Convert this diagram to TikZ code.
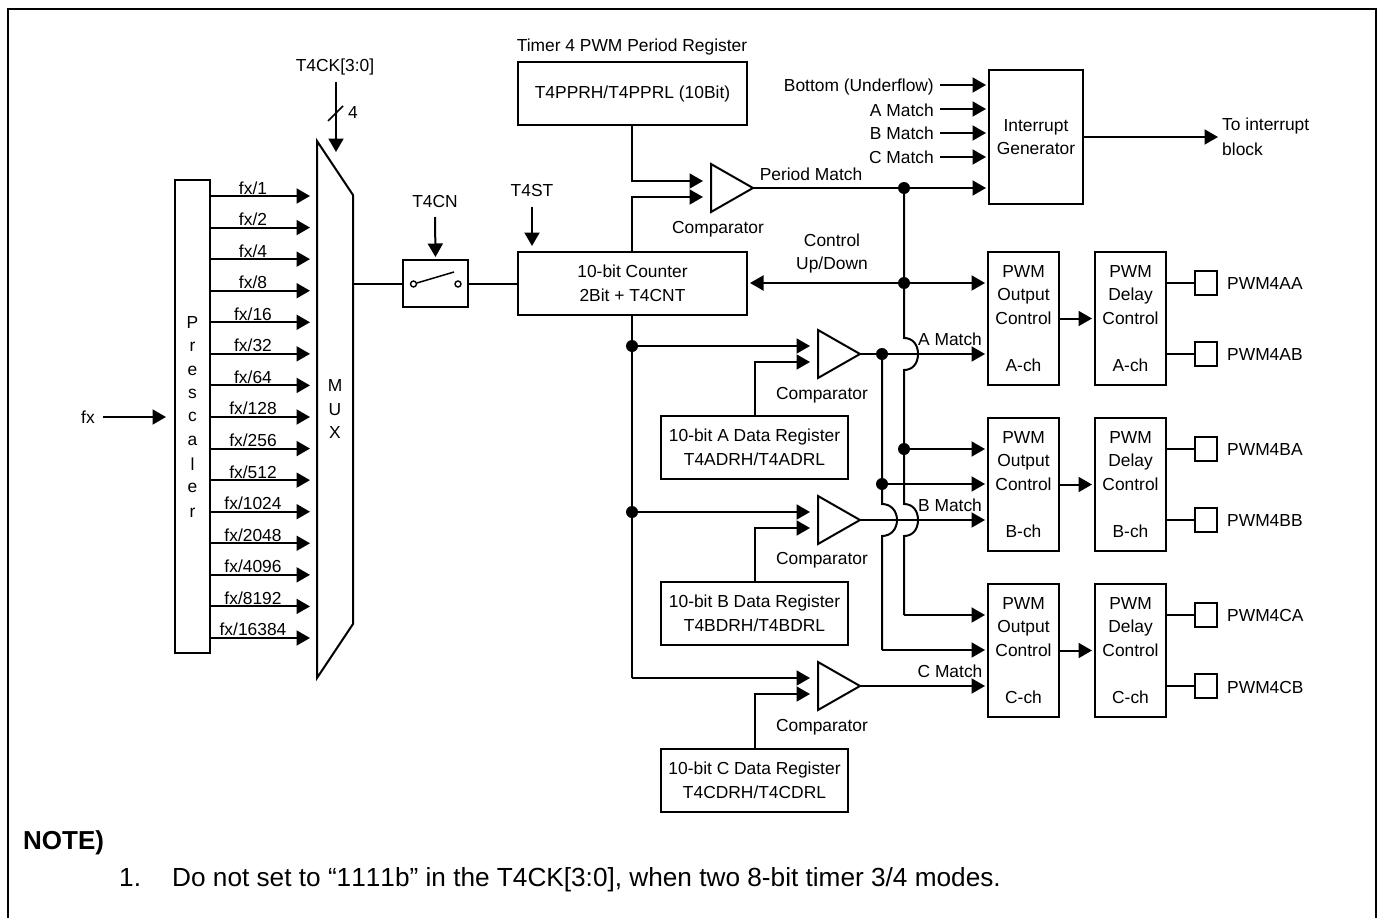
\documentclass[tikz,border=0pt]{standalone}
\usepackage{fontspec}
\setmainfont{Liberation Sans}
\newfontfamily\notefont[Kerning=Off]{Liberation Sans}
\usetikzlibrary{arrows.meta,shapes.geometric}
\tikzset{
  wire/.style={line width=2pt,draw=black,line join=miter},
  arr/.style={wire,-{Triangle[length=13.5pt,width=15pt]}},
  box/.style={draw=black,line width=2pt,rectangle,inner sep=0pt,align=center,
     font=\fontsize{17.4}{23.6}\selectfont},
  txt/.style={inner sep=0pt,align=center,yshift=-1pt,font=\fontsize{17.4}{23.6}\selectfont},
  dot/.style={circle,fill=black,draw=none,minimum size=12pt,inner sep=0pt},
  pin/.style={draw=black,line width=2pt,rectangle,inner sep=0pt,minimum width=22pt,minimum height=24pt},
  comp/.style={draw=black,line width=2pt,isosceles triangle,isosceles triangle stretches,
     inner sep=0pt,outer sep=0pt,shape border rotate=0,minimum width=48pt,minimum height=42pt,anchor=lower side},
  pwm/.style={box,minimum width=71pt,minimum height=133pt},
  dreg/.style={box,minimum width=187pt,minimum height=63pt},
  lbl/.style={txt,anchor=base,yshift=1pt},
}
\begin{document}
\begin{tikzpicture}[x=1pt,y=-1pt]
\useasboundingbox (0,0) rectangle (1383,918);
% frame
\draw[line width=2.2pt] (8,918) -- (8,9) -- (1376,9) -- (1376,918);

% prescaler and mux
\node[box,minimum width=35pt,minimum height=473pt] (pre) at (192.5,416.5) {};
\foreach \ch/\yy in {P/322,r/346,e/370,s/393,c/416,a/440,l/463,e/487,r/512}
  \node[txt] at (192.5,\yy) {\ch};
\draw[wire] (317,141) -- (353,195) -- (353,624) -- (317,678) -- cycle;
\node[txt] (muxM) at (335,385) {M};
\node[txt] (muxU) at (335,409) {U};
\node[txt] (muxX) at (335,432) {X};
\coordinate (muxout) at (353,284);
\coordinate (muxctl) at (336,152);

\node[txt] (fx) at (88,416) {fx};
\coordinate (fxs) at (103,417);
\draw[arr,shorten >=8pt] (fxs) -- (fxs -| pre.west);

\foreach \i/\lab in {0/fx\slash 1,1/fx\slash 2,2/fx\slash 4,3/fx\slash 8,4/fx\slash 16,5/fx\slash 32,6/fx\slash 64,7/fx\slash 128,8/fx\slash 256,9/fx\slash 512,10/fx\slash 1024,11/fx\slash 2048,12/fx\slash 4096,13/fx\slash 8192,14/fx\slash 16384}{
  \pgfmathsetmacro{\yy}{196+31.57*\i}
  \coordinate (fs\i) at (210,\yy);
  \coordinate (ft\i) at (310,\yy);
  \draw[arr] (fs\i) -- (ft\i);
  \node[lbl] (fl\i) at (253,\yy-2) {\lab};
}

% T4CK
\node[txt] (ck) at (335,66) {T4CK[3:0]};
\coordinate (cks) at (336,82);
\draw[arr] (cks) -- (muxctl);
\coordinate (sl1) at (328,121);
\coordinate (sl2) at (343,106);
\draw[line width=1.5pt] (sl1) -- (sl2);
\node[txt] (ckn) at (353,112) {4};

% switch
\node[box,minimum width=65pt,minimum height=47pt] (sw) at (435.5,283.5) {};
\node[draw=black,line width=1.4pt,circle,minimum size=6pt,inner sep=0pt] (swa) at (413.5,284) {};
\node[draw=black,line width=1.4pt,circle,minimum size=6pt,inner sep=0pt] (swb) at (458,284) {};
\coordinate (swt) at (454,272);
\draw[line width=1.5pt] (swa) -- (swt);
\node[txt] (cn) at (435,201) {T4CN};
\coordinate (cns) at (435,217);
\draw[arr,shorten >=2pt] (cns) -- (sw.north);
\node[box,minimum width=229pt,minimum height=63pt] (cnt) at (632.5,283.5) {10-bit Counter\\2Bit + T4CNT};
\node[txt] (st) at (532,190) {T4ST};
\coordinate (sts) at (532,207);
\draw[arr,shorten >=5pt] (sts) -- (sts |- cnt.north);
\draw[wire] (muxout) -- (sw.west |- muxout);
\draw[wire] (sw.east |- muxout) -- (cnt.west |- muxout);

% period register and comparator 1
\node[txt] (pt) at (632,46) {Timer 4 PWM Period Register};
\node[box,minimum width=229pt,minimum height=63pt] (ppr) at (632.5,93.5) {T4PPRH/T4PPRL (10Bit)};
\node[comp] (c1) at (711,188) {};
\node[txt] (c1l) at (718,228) {Comparator};
\coordinate (c1a) at (632,181);
\coordinate (c1b) at (632,197);
\draw[arr,shorten >=8pt] (ppr.south -| c1a) -- (c1a) -- (c1a -| c1.lower side);
\draw[arr,shorten >=8pt] (cnt.north -| c1b) -- (c1b) -- (c1b -| c1.lower side);
\node[txt] (pm) at (811,173) {Period Match};

% interrupt
\node[box,minimum width=94pt,minimum height=134pt] (ig) at (1036,137) {Interrupt\\Generator};
\node[txt,anchor=east] (bu) at (934,86) {Bottom (Underflow)};
\node[txt,anchor=east] (am) at (934,109) {A Match};
\node[txt,anchor=east] (bm) at (934,132) {B Match};
\node[txt,anchor=east] (cm) at (934,156) {C Match};
\foreach \n/\yy in {bu/85,am/109,bm/133,cm/157}{
  \coordinate (\n s) at (940,\yy);
  \draw[arr,shorten >=2pt] (\n s) -- (\n s -| ig.west);
}
\node[txt,anchor=west] (toi) at (1222,125) {To interrupt};
\node[txt,anchor=west] (blk) at (1222,148) {block};
\coordinate (igt) at (1218,137);
\draw[arr] (ig.east) -- (igt);

% channels
\foreach \c/\d/\cy in {A/a/318.5,B/b/484.5,C/c/650.5}{
  \node[pwm] (o\c) at (1023.5,\cy) {PWM\\Output\\Control\\ \\\c-ch};
  \node[pwm] (d\c) at (1130.5,\cy) {PWM\\Delay\\Control\\ \\\c-ch};
  \draw[arr,shorten >=2pt] (o\c.east) -- (d\c.west);
  \node[pin] (p\c a) at (1206,\cy-35.5) {};
  \node[pin] (p\c b) at (1206,\cy+35.5) {};
  \draw[wire] (d\c.east |- p\c a) -- (p\c a);
  \draw[wire] (d\c.east |- p\c b) -- (p\c b);
  \node[txt,anchor=west] (t\c a) at (1227,\cy-35.5) {PWM4\c A};
  \node[txt,anchor=west] (t\c b) at (1227,\cy+35.5) {PWM4\c B};
}

% comparators 2-4 and data registers
\foreach \c/\cy/\ry/\ly in {A/354/447.5/394,B/520/613.5/559,C/686/780.5/726}{
  \node[comp] (k\c) at (818,\cy) {};
  \node[txt] (kl\c) at (822,\ly) {Comparator};
  \node[dreg] (r\c) at (754.5,\ry) {10-bit \c\ Data Register\\T4\c DRH/T4\c DRL};
  \coordinate (kb\c) at (754.5,\cy+8);
  \draw[arr,shorten >=8pt] (r\c.north) -- (kb\c) -- (kb\c -| k\c.lower side);
}

% bus from counter
\node[dot] (ja) at (632,346) {};
\node[dot] (jb) at (632,512) {};
\coordinate (jc) at (632,678);
\draw[wire] (cnt.south -| ja) -- (jc);
\draw[arr,shorten >=8pt] (ja) -- (ja -| kA.lower side);
\draw[arr,shorten >=8pt] (jb) -- (jb -| kB.lower side);
\draw[arr,shorten >=8pt] (jc) -- (jc -| kC.lower side);

% period match and up/down
\node[dot] (n1) at (904,188) {};
\node[dot] (n2) at (904,283) {};
\node[dot] (n3) at (904,449) {};
\draw[wire] (c1.apex) -- (n1);
\draw[arr,shorten >=2pt] (n1) -- (n1 -| ig.west);
\draw[wire,{Triangle[length=13.5pt,width=15pt]}-{Triangle[length=13.5pt,width=15pt]},shorten <=2pt,shorten >=2pt] (cnt.east |- n2) -- (n2 -| oA.west);
\node[txt] (cud) at (832,252.5) {Control\\Up/Down};
\draw[arr,shorten >=2pt] (n3) -- (n3 -| oB.west);

% A, B, C match
\node[dot] (m1) at (882,354) {};
\node[dot] (m2) at (882,484) {};
\node[txt] (al) at (950,338) {A Match};
\node[txt] (bl) at (950,504) {B Match};
\node[txt] (cl) at (950,670) {C Match};
\draw[arr,shorten >=2pt] (kA.apex) -- (kA.apex -| oA.west);
\draw[arr,shorten >=2pt] (kB.apex) -- (kB.apex -| oB.west);
\draw[arr,shorten >=2pt] (kC.apex) -- (kC.apex -| oC.west);
\draw[arr,shorten >=2pt] (m2) -- (m2 -| oB.west);

% vertical with hops at x=904
\coordinate (v1e) at (904,615);
\draw[wire] (n1) -- (904,338)
   .. controls (913,338) and (918,345) .. (918,354)
   .. controls (918,363) and (913,370) .. (904,370)
   -- (904,504)
   .. controls (913,504) and (918,511) .. (918,520)
   .. controls (918,529) and (913,536) .. (904,536)
   -- (v1e);
\draw[arr,shorten >=2pt] (v1e) -- (v1e -| oC.west);
% vertical with hop at x=882
\coordinate (v2e) at (882,650);
\draw[wire] (m1) -- (882,504)
   .. controls (891,504) and (897,511) .. (897,520)
   .. controls (897,529) and (891,536) .. (882,536)
   -- (v2e);
\draw[arr,shorten >=2pt] (v2e) -- (v2e -| oC.west);

% note
\node[anchor=base west,inner sep=0pt,font=\fontsize{26}{30}\selectfont\bfseries] (note) at (23,849) {NOTE)};
\node[anchor=base west,inner sep=0pt,font=\fontsize{26.2}{30}\notefont] (n1t) at (119,886) {1.};
\node[anchor=base west,inner sep=0pt,font=\fontsize{26.2}{30}\notefont] (n2t) at (172,886) {Do not set to “1111b” in the T4CK[3:0], when two 8-bit timer 3/4 modes.};
\end{tikzpicture}
\end{document}
